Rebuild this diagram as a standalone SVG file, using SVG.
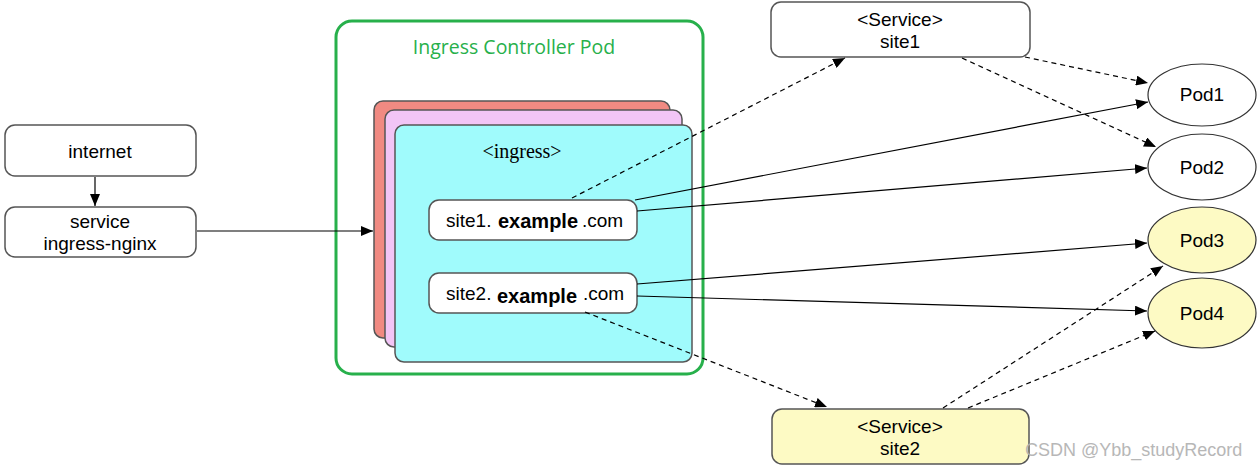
<svg xmlns="http://www.w3.org/2000/svg" width="1260" height="470" viewBox="0 0 1260 470">
<style>
.box{fill:#fff;stroke:#555;stroke-width:1.5}
.t{font-family:"Liberation Sans",Arial,sans-serif;font-size:19px;fill:#000;text-anchor:middle}
.st{font-family:"Liberation Sans",Arial,sans-serif;font-size:19px;fill:#000}
.bold{font-weight:bold;font-size:20px}
.pod{stroke:#333;stroke-width:1.2}
.ln{stroke:#000;stroke-width:1.2;fill:none;marker-end:url(#ah)}
.dash{stroke-dasharray:5,4}
</style>
<defs>
<marker id="ah" viewBox="0 0 12 10" refX="12" refY="5" markerWidth="12" markerHeight="10" markerUnits="userSpaceOnUse" orient="auto">
<path d="M0,0 L12,5 L0,10 z" fill="#000"/>
</marker>
</defs>
<rect width="1260" height="470" fill="#fff"/>

<g id="internet">
<rect class="box" x="5" y="125" width="191" height="51" rx="10"/>
<text class="t" x="100" y="158">internet</text>
</g>
<g id="service-ingress-nginx">
<rect class="box" x="5" y="207" width="191" height="50" rx="10"/>
<text class="t" x="100" y="228">service</text>
<text class="t" x="100" y="250">ingress-nginx</text>
</g>

<g id="ingress-controller-pod">
<rect x="336" y="21" width="367" height="353" rx="16" fill="#fff" stroke="#27b04b" stroke-width="3"/>
<text x="514" y="54" font-family="'Open Sans',sans-serif" font-size="19.5" fill="#27b04b" text-anchor="middle">Ingress Controller Pod</text>
</g>

<g id="ingress">
<rect x="374" y="101" width="296" height="237" rx="9" fill="#f08a82" stroke="#555" stroke-width="1.5"/>
<rect x="385" y="110" width="297" height="237" rx="9" fill="#f2c5f6" stroke="#555" stroke-width="1.5"/>
<rect x="395" y="125" width="297" height="237" rx="9" fill="#a0fbfc" stroke="#555" stroke-width="1.5"/>
<text x="522" y="158" font-family="'Liberation Serif',serif" font-size="20" text-anchor="middle">&lt;ingress&gt;</text>
</g>

<g id="site1-host">
<rect class="box" x="429" y="200" width="208" height="40" rx="10"/>
<text class="st" x="446" y="227">site1.<tspan class="bold" x="498" y="228">example</tspan><tspan x="582" y="227">.com</tspan></text>
</g>
<g id="site2-host">
<rect class="box" x="429" y="273" width="208" height="40" rx="10"/>
<text class="st" x="446" y="300">site2.<tspan class="bold" x="497" y="303">example</tspan><tspan x="583" y="300">.com</tspan></text>
</g>

<g id="service-site1">
<rect class="box" x="771" y="2" width="259" height="55" rx="10"/>
<text class="t" x="900" y="26">&lt;Service&gt;</text>
<text class="t" x="900" y="48">site1</text>
</g>
<g id="service-site2">
<rect class="box" x="772" y="409" width="257" height="55" rx="10" style="fill:#fdfac4"/>
<text class="t" x="900" y="433">&lt;Service&gt;</text>
<text class="t" x="900" y="455">site2</text>
</g>

<g id="pod1"><ellipse class="pod" cx="1202" cy="95" rx="54" ry="31" fill="#fff"/><text class="t" x="1202" y="101">Pod1</text></g>
<g id="pod2"><ellipse class="pod" cx="1202" cy="167" rx="54" ry="33" fill="#fff"/><text class="t" x="1202" y="174">Pod2</text></g>
<g id="pod3"><ellipse class="pod" cx="1202" cy="240" rx="54" ry="33" fill="#fdfac4"/><text class="t" x="1202" y="247">Pod3</text></g>
<g id="pod4"><ellipse class="pod" cx="1202" cy="313" rx="54" ry="35" fill="#fdfac4"/><text class="t" x="1202" y="320">Pod4</text></g>

<g id="connectors">
<line class="ln" x1="95" y1="177" x2="95" y2="206"/>
<line class="ln" x1="197" y1="231" x2="373" y2="231"/>
<line class="ln dash" x1="572" y1="198" x2="845" y2="58"/>
<line class="ln" x1="635" y1="200" x2="1148" y2="102"/>
<line class="ln" x1="637" y1="211" x2="1147" y2="168"/>
<line class="ln dash" x1="1025" y1="57" x2="1148" y2="83"/>
<line class="ln dash" x1="962" y1="58" x2="1156" y2="147"/>
<line class="ln" x1="637" y1="284" x2="1147" y2="243"/>
<line class="ln" x1="637" y1="296" x2="1147" y2="311"/>
<line class="ln dash" x1="585" y1="312" x2="827" y2="407"/>
<line class="ln dash" x1="943" y1="408" x2="1163" y2="266"/>
<line class="ln dash" x1="968" y1="408" x2="1155" y2="331"/>
</g>

<text x="1025" y="456" font-family="'Liberation Sans',Arial,sans-serif" font-size="18" fill="#b0b0b0" opacity="0.9">CSDN @Ybb_studyRecord</text>
</svg>
